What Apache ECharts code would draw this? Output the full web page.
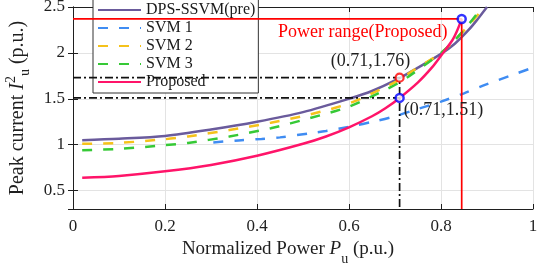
<!DOCTYPE html>
<html>
<head>
<meta charset="UTF-8">
<title>Peak current vs normalized power</title>
<script src="https://cdn.jsdelivr.net/npm/echarts@6/dist/echarts.min.js"></script>
<style>
    html, body { margin: 0; padding: 0; background: #fff; }
    #main { width: 540px; height: 265px; }
</style>
</head>
<body>
<div id="main"></div>
<script>
    // curve data (normalized power, peak current)
    const dpsX = [0.02, 0.1, 0.2, 0.3, 0.4, 0.5, 0.6, 0.65, 0.7, 0.75, 0.8, 0.83, 0.86, 0.88, 0.9];
    const dpsY = [1.05, 1.065, 1.095, 1.165, 1.25, 1.355, 1.5, 1.585, 1.7, 1.84, 1.99, 2.1, 2.25, 2.37, 2.5];

    const svm1X = [0.305, 0.36, 0.41, 0.45, 0.515, 0.55, 0.6, 0.66, 0.7, 0.75, 0.8, 0.85, 0.9, 0.95, 1.0];
    const svm1Y = [1.025, 1.047, 1.063, 1.08, 1.125, 1.15, 1.195, 1.26, 1.31, 1.39, 1.47, 1.56, 1.66, 1.75, 1.84];

    const svm2X = [0.02, 0.1, 0.2, 0.25, 0.34, 0.43, 0.515, 0.6, 0.68, 0.71, 0.74, 0.8, 0.83, 0.86, 0.895];
    const svm2Y = [1.01, 1.02, 1.06, 1.09, 1.16, 1.24, 1.33, 1.45, 1.63, 1.71, 1.81, 2.0, 2.14, 2.3, 2.5];

    const svm3X = [0.02, 0.1, 0.2, 0.25, 0.34, 0.43, 0.515, 0.6, 0.68, 0.71, 0.74, 0.8, 0.83, 0.86, 0.89];
    const svm3Y = [0.94, 0.955, 0.995, 1.02, 1.09, 1.18, 1.29, 1.415, 1.6, 1.68, 1.78, 2.0, 2.14, 2.31, 2.5];

    const propX = [0.02, 0.1, 0.2, 0.3, 0.4, 0.5, 0.55, 0.6, 0.65, 0.68, 0.71, 0.75, 0.78, 0.8, 0.825, 0.835, 0.845];
    const propY = [0.64, 0.66, 0.71, 0.78, 0.88, 1.01, 1.09, 1.19, 1.31, 1.4, 1.51, 1.68, 1.84, 1.97, 2.14, 2.24, 2.37];

    // marked operating points
    const prePoint = [0.71, 1.73];
    const propPoint = [0.71, 1.51];
    const maxPoint = [0.845, 2.37];
    const yBottom = 0.3;

    const seriesNames = ['DPS-SSVM(pre)', 'SVM 1', 'SVM 2', 'SVM 3', 'Proposed'];
    const xTicks = ['0', '0.2', '0.4', '0.6', '0.8', '1'];

    const zip = (xs, ys) => xs.map((x, i) => [x, ys[i]]);
    const serif = 'Liberation Serif';
    const ink = '#1f1f1f';

    var chart = echarts.init(document.getElementById('main'));

    function curve(name, xs, ys, color, dashed) {
        return {
            name: name,
            type: 'line',
            data: zip(xs, ys),
            smooth: 0.3,
            symbol: 'none',
            lineStyle: { color: color, width: 2.5, type: dashed ? [10, 11] : 'solid' },
            itemStyle: { color: color },
            z: 3
        };
    }

    function guide(points, color, type) {
        return {
            type: 'line',
            data: points,
            symbol: 'none',
            silent: true,
            lineStyle: { color: color, width: 1.7, type: type },
            z: 4
        };
    }

    function note(text, color, position, offset) {
        return { show: true, formatter: text, position: position, offset: offset,
                 fontFamily: serif, fontSize: 18, color: color,
                 textBorderWidth: 0, opacity: 1 };
    }

    var option = {
        animation: false,
        grid: { left: 73, right: 7, top: 7, bottom: 56, outerBoundsMode: 'none' },
        legend: {
            data: seriesNames,
            orient: 'vertical',
            left: 93,
            top: -1,
            padding: [3, 3, 3, 4],
            itemWidth: 43,
            itemHeight: 14,
            itemGap: 2,
            itemStyle: { opacity: 0 },
            backgroundColor: '#fff',
            borderColor: '#333',
            borderWidth: 1,
            borderRadius: 0,
            textStyle: { fontFamily: serif, fontSize: 16, color: '#1a1a1a', lineHeight: 16 }
        },
        xAxis: [{
            type: 'value',
            min: 0, max: 1, interval: 0.2,
            name: 'Normalized Power {it|P}{sub|u} (p.u.)',
            nameLocation: 'middle',
            nameGap: 20,
            nameTextStyle: {
                fontFamily: serif, fontSize: 19, color: ink,
                padding: [0, 30, 0, 0],
                rich: {
                    it: { fontFamily: serif, fontSize: 19, fontStyle: 'italic', color: ink },
                    sub: { fontFamily: serif, fontSize: 14, color: ink, padding: [20, 0, 0, 0] }
                }
            },
            axisLine: { lineStyle: { color: ink, width: 1 } },
            axisTick: { inside: true, length: 5, lineStyle: { color: ink } },
            axisLabel: {
                fontFamily: serif, fontSize: 17, color: ink, margin: 9,
                formatter: function (v) { return xTicks[Math.round(v / 0.2)]; }
            },
            splitLine: { show: true, lineStyle: { color: '#e3e3e3', width: 1 } }
        }, {
            type: 'value',
            position: 'top',
            min: 0, max: 1, interval: 0.2,
            axisLine: { lineStyle: { color: ink, width: 1 } },
            axisTick: { inside: true, length: 5, lineStyle: { color: ink } },
            axisLabel: { show: false },
            splitLine: { show: false }
        }],
        yAxis: [{
            type: 'value',
            min: yBottom, max: 2.5, splitNumber: 5,
            name: 'Peak current {it|I}{sup|2}{sub|u} (p.u.)',
            nameLocation: 'middle',
            nameRotate: 90,
            nameGap: 41,
            nameTextStyle: {
                fontFamily: serif, fontSize: 20, color: ink,
                rich: {
                    it: { fontFamily: serif, fontSize: 20, fontStyle: 'italic', color: ink },
                    sup: { fontFamily: serif, fontSize: 14, color: ink, padding: [0, 0, 14, 0] },
                    sub: { fontFamily: serif, fontSize: 14, color: ink, padding: [14, 0, 0, 0] }
                }
            },
            axisLine: { show: true, lineStyle: { color: ink, width: 1 } },
            axisTick: { show: true, inside: true, length: 5, lineStyle: { color: ink } },
            axisLabel: {
                fontFamily: serif, fontSize: 17, color: ink, margin: 8,
                showMinLabel: false,
                formatter: function (v) { return Math.abs(v - yBottom) < 1e-6 ? '' : String(v); }
            },
            splitLine: { show: true, lineStyle: { color: '#e3e3e3', width: 1 } }
        }, {
            type: 'value',
            position: 'right',
            min: yBottom, max: 2.5, splitNumber: 5,
            axisLine: { show: true, lineStyle: { color: ink, width: 1 } },
            axisTick: { show: true, inside: true, length: 5, lineStyle: { color: ink } },
            axisLabel: { show: false },
            splitLine: { show: false }
        }],
        series: [
            curve(seriesNames[0], dpsX, dpsY, '#6a5b9c', false),
            curve(seriesNames[1], svm1X, svm1Y, '#3f8cf2', true),
            curve(seriesNames[2], svm2X, svm2Y, '#f5c21b', true),
            curve(seriesNames[3], svm3X, svm3Y, '#36c936', true),
            curve(seriesNames[4], propX, propY, '#ff1469', false),
            // dash-dot guides to the operating points
            guide([[0, prePoint[1]], prePoint, [prePoint[0], yBottom]], '#111', [8, 3, 2, 3]),
            guide([[0, propPoint[1]], propPoint], '#111', [8, 3, 2, 3]),
            // proposed power range
            guide([[0, maxPoint[1]], maxPoint, [maxPoint[0], yBottom]], '#ff0000', 'solid'),
            {
                type: 'scatter',
                z: 6,
                symbol: 'circle',
                symbolSize: 8,
                data: [
                    { value: prePoint, itemStyle: { color: '#fff', borderColor: '#ff0000', borderWidth: 2.2 },
                      label: note('(0.71,1.76)', ink, 'top', [-29, 3]) },
                    { value: propPoint, itemStyle: { color: '#fff', borderColor: '#0000ff', borderWidth: 2.5 },
                      label: note('(0.71,1.51)', ink, 'right', [-6, 12]) },
                    { value: maxPoint, itemStyle: { color: '#fff', borderColor: '#0000ff', borderWidth: 2.5 },
                      label: note('Power range(Proposed)', '#ff0000', 'left', [-4, 13]) }
                ],
                emphasis: { disabled: true }
            }
        ]
    };

    chart.setOption(option);
</script>
</body>
</html>
